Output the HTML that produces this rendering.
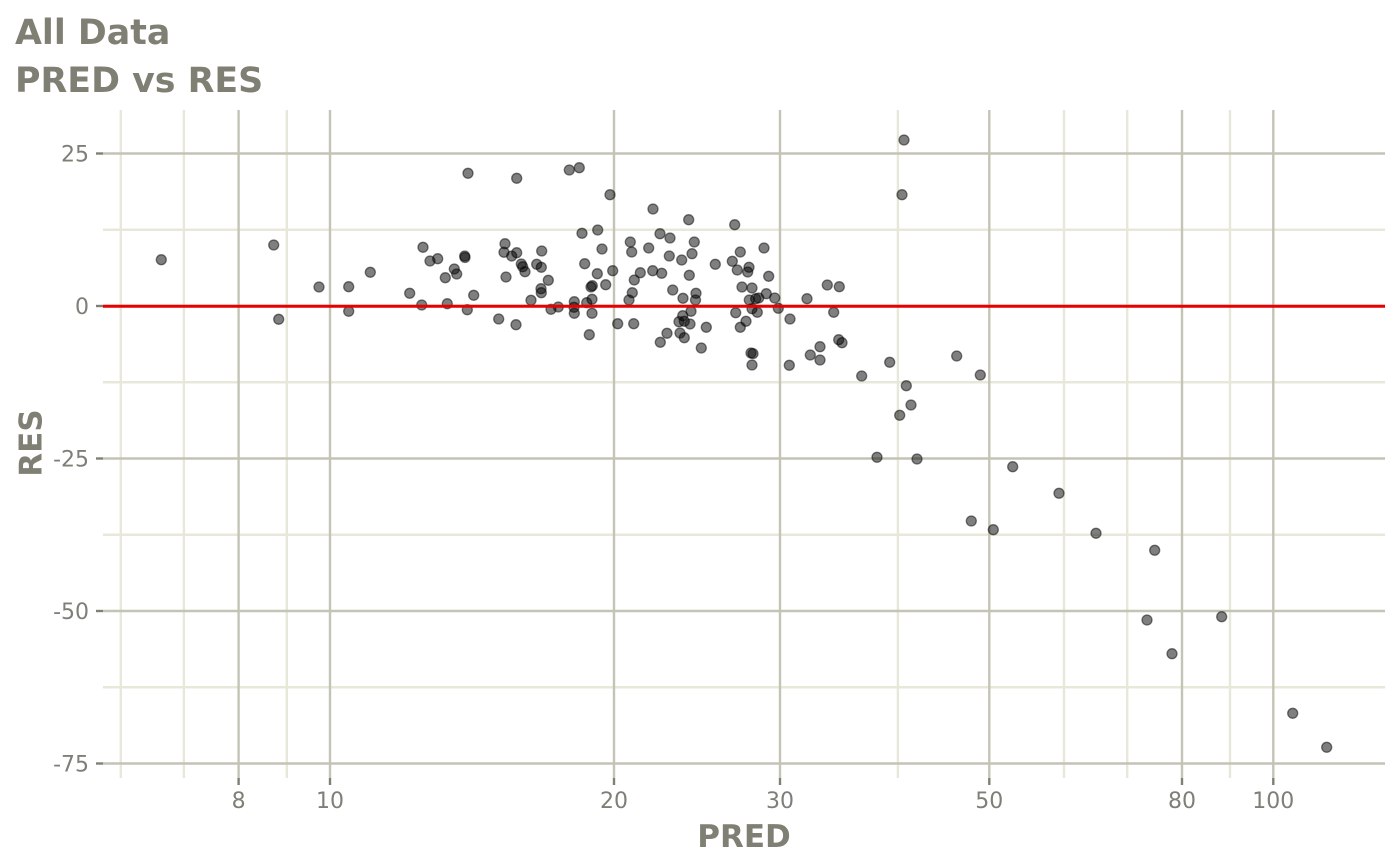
<!DOCTYPE html>
<html><head><meta charset="utf-8"><style>
html,body{margin:0;padding:0;background:#fff;}
svg{display:block;}
text{font-family:"DejaVu Sans","Liberation Sans",sans-serif;}
</style></head><body>
<svg width="1400" height="865" viewBox="0 0 1400 865" xmlns="http://www.w3.org/2000/svg">
<rect width="1400" height="865" fill="#fff"/>
<g stroke="#e8e8da" stroke-width="2.4">
<line x1="103" x2="1385" y1="229.75" y2="229.75"/>
<line x1="103" x2="1385" y1="382.25" y2="382.25"/>
<line x1="103" x2="1385" y1="534.75" y2="534.75"/>
<line x1="103" x2="1385" y1="687.25" y2="687.25"/>
<line x1="120.8" x2="120.8" y1="110" y2="778"/>
<line x1="183.9" x2="183.9" y1="110" y2="778"/>
<line x1="286.8" x2="286.8" y1="110" y2="778"/>
<line x1="897.9" x2="897.9" y1="110" y2="778"/>
<line x1="1064" x2="1064" y1="110" y2="778"/>
<line x1="1127.2" x2="1127.2" y1="110" y2="778"/>
<line x1="1230" x2="1230" y1="110" y2="778"/>
</g>
<g stroke="#c4c4b6" stroke-width="2.4">
<line x1="103" x2="1385" y1="153.5" y2="153.5"/>
<line x1="103" x2="1385" y1="306" y2="306"/>
<line x1="103" x2="1385" y1="458.5" y2="458.5"/>
<line x1="103" x2="1385" y1="611" y2="611"/>
<line x1="103" x2="1385" y1="763.5" y2="763.5"/>
<line x1="238.6" x2="238.6" y1="110" y2="778"/>
<line x1="330" x2="330" y1="110" y2="778"/>
<line x1="614" x2="614" y1="110" y2="778"/>
<line x1="780" x2="780" y1="110" y2="778"/>
<line x1="989.3" x2="989.3" y1="110" y2="778"/>
<line x1="1182" x2="1182" y1="110" y2="778"/>
<line x1="1273.3" x2="1273.3" y1="110" y2="778"/>
</g>
<g stroke="#7f7f78" stroke-width="2.4">
<line x1="96" x2="103" y1="153.5" y2="153.5"/>
<line x1="96" x2="103" y1="306" y2="306"/>
<line x1="96" x2="103" y1="458.5" y2="458.5"/>
<line x1="96" x2="103" y1="611" y2="611"/>
<line x1="96" x2="103" y1="763.5" y2="763.5"/>
<line x1="238.6" x2="238.6" y1="778" y2="785"/>
<line x1="330" x2="330" y1="778" y2="785"/>
<line x1="614" x2="614" y1="778" y2="785"/>
<line x1="780" x2="780" y1="778" y2="785"/>
<line x1="989.3" x2="989.3" y1="778" y2="785"/>
<line x1="1182" x2="1182" y1="778" y2="785"/>
<line x1="1273.3" x2="1273.3" y1="778" y2="785"/>
</g>
<g fill="#000" fill-opacity="0.5" stroke="#000" stroke-opacity="0.5" stroke-width="1.3">
<circle cx="161.3" cy="259.7" r="5"/>
<circle cx="273.7" cy="245" r="5"/>
<circle cx="278.7" cy="319.3" r="5"/>
<circle cx="319" cy="287" r="5"/>
<circle cx="348.7" cy="286.7" r="5"/>
<circle cx="348.7" cy="311.3" r="5"/>
<circle cx="370.3" cy="272.3" r="5"/>
<circle cx="468" cy="173.3" r="5"/>
<circle cx="423" cy="247.3" r="5"/>
<circle cx="430" cy="261" r="5"/>
<circle cx="437.7" cy="258.7" r="5"/>
<circle cx="464.7" cy="256" r="5"/>
<circle cx="465" cy="257.5" r="5"/>
<circle cx="454.3" cy="269" r="5"/>
<circle cx="456.7" cy="274" r="5"/>
<circle cx="445.3" cy="277.7" r="5"/>
<circle cx="409.7" cy="293.3" r="5"/>
<circle cx="421.7" cy="305" r="5"/>
<circle cx="447.3" cy="303.7" r="5"/>
<circle cx="467.3" cy="309.7" r="5"/>
<circle cx="473.7" cy="295.3" r="5"/>
<circle cx="516.7" cy="178.3" r="5"/>
<circle cx="569.3" cy="170" r="5"/>
<circle cx="579.3" cy="167.7" r="5"/>
<circle cx="610" cy="194.7" r="5"/>
<circle cx="653" cy="209" r="5"/>
<circle cx="688.7" cy="219.7" r="5"/>
<circle cx="582" cy="233.3" r="5"/>
<circle cx="597.7" cy="230" r="5"/>
<circle cx="505" cy="243.7" r="5"/>
<circle cx="504" cy="252.3" r="5"/>
<circle cx="511.7" cy="256" r="5"/>
<circle cx="516.7" cy="252.7" r="5"/>
<circle cx="541.7" cy="251" r="5"/>
<circle cx="602" cy="249" r="5"/>
<circle cx="630.3" cy="242" r="5"/>
<circle cx="631.7" cy="252" r="5"/>
<circle cx="648.7" cy="248" r="5"/>
<circle cx="660" cy="233.7" r="5"/>
<circle cx="670" cy="238" r="5"/>
<circle cx="694.3" cy="242" r="5"/>
<circle cx="692" cy="253.7" r="5"/>
<circle cx="669.3" cy="256" r="5"/>
<circle cx="681.7" cy="260" r="5"/>
<circle cx="521.3" cy="264" r="5"/>
<circle cx="522.7" cy="266.7" r="5"/>
<circle cx="525" cy="271.7" r="5"/>
<circle cx="536.7" cy="264.3" r="5"/>
<circle cx="541.3" cy="267.3" r="5"/>
<circle cx="506" cy="277" r="5"/>
<circle cx="584.7" cy="263.7" r="5"/>
<circle cx="612.7" cy="270.7" r="5"/>
<circle cx="597.3" cy="273.7" r="5"/>
<circle cx="640.3" cy="272.7" r="5"/>
<circle cx="652.7" cy="270.7" r="5"/>
<circle cx="661.7" cy="273.3" r="5"/>
<circle cx="689.3" cy="275.3" r="5"/>
<circle cx="634.3" cy="280" r="5"/>
<circle cx="548.3" cy="280.3" r="5"/>
<circle cx="541" cy="288.7" r="5"/>
<circle cx="541.3" cy="292.7" r="5"/>
<circle cx="592.3" cy="285.7" r="5"/>
<circle cx="591" cy="287" r="5"/>
<circle cx="605.7" cy="284.7" r="5"/>
<circle cx="632.3" cy="292.7" r="5"/>
<circle cx="629" cy="300" r="5"/>
<circle cx="531" cy="300.3" r="5"/>
<circle cx="672.7" cy="290" r="5"/>
<circle cx="683" cy="298.3" r="5"/>
<circle cx="696" cy="293.3" r="5"/>
<circle cx="695.5" cy="300" r="5"/>
<circle cx="551" cy="309.3" r="5"/>
<circle cx="558.3" cy="307" r="5"/>
<circle cx="574.3" cy="301.7" r="5"/>
<circle cx="574" cy="307.3" r="5"/>
<circle cx="574.3" cy="313.3" r="5"/>
<circle cx="586.7" cy="302.7" r="5"/>
<circle cx="592" cy="299.3" r="5"/>
<circle cx="592" cy="313.3" r="5"/>
<circle cx="691" cy="311.3" r="5"/>
<circle cx="682.7" cy="315.7" r="5"/>
<circle cx="679" cy="321.7" r="5"/>
<circle cx="684.3" cy="321.3" r="5"/>
<circle cx="690" cy="324" r="5"/>
<circle cx="498.7" cy="319" r="5"/>
<circle cx="516" cy="324.7" r="5"/>
<circle cx="617.7" cy="323.7" r="5"/>
<circle cx="633.7" cy="323.7" r="5"/>
<circle cx="589.3" cy="334.7" r="5"/>
<circle cx="667" cy="333.3" r="5"/>
<circle cx="660.3" cy="342.3" r="5"/>
<circle cx="680" cy="333" r="5"/>
<circle cx="684.3" cy="337.7" r="5"/>
<circle cx="701.3" cy="348" r="5"/>
<circle cx="734.7" cy="224.7" r="5"/>
<circle cx="715.3" cy="264.3" r="5"/>
<circle cx="740.3" cy="252" r="5"/>
<circle cx="764" cy="248" r="5"/>
<circle cx="732.3" cy="261.3" r="5"/>
<circle cx="737.3" cy="270" r="5"/>
<circle cx="749" cy="267.3" r="5"/>
<circle cx="747.7" cy="272" r="5"/>
<circle cx="768.7" cy="276.3" r="5"/>
<circle cx="742" cy="287" r="5"/>
<circle cx="752" cy="288" r="5"/>
<circle cx="766.3" cy="293.7" r="5"/>
<circle cx="774.7" cy="298" r="5"/>
<circle cx="749.3" cy="300" r="5"/>
<circle cx="755.7" cy="298.7" r="5"/>
<circle cx="758.7" cy="298" r="5"/>
<circle cx="735.7" cy="312.7" r="5"/>
<circle cx="752" cy="308.7" r="5"/>
<circle cx="757.3" cy="312.3" r="5"/>
<circle cx="778.3" cy="308.3" r="5"/>
<circle cx="746" cy="321.3" r="5"/>
<circle cx="740.3" cy="327.3" r="5"/>
<circle cx="706.3" cy="327.3" r="5"/>
<circle cx="751" cy="353" r="5"/>
<circle cx="753" cy="353.6" r="5"/>
<circle cx="752" cy="365" r="5"/>
<circle cx="790" cy="319" r="5"/>
<circle cx="807" cy="298.7" r="5"/>
<circle cx="827.3" cy="285" r="5"/>
<circle cx="839.3" cy="286.7" r="5"/>
<circle cx="833.7" cy="312.3" r="5"/>
<circle cx="838.7" cy="339.7" r="5"/>
<circle cx="842" cy="342.7" r="5"/>
<circle cx="820" cy="346.7" r="5"/>
<circle cx="810.3" cy="355" r="5"/>
<circle cx="820" cy="360" r="5"/>
<circle cx="789.3" cy="365.3" r="5"/>
<circle cx="861.7" cy="376" r="5"/>
<circle cx="904" cy="140" r="5"/>
<circle cx="902" cy="194.7" r="5"/>
<circle cx="889.7" cy="362.3" r="5"/>
<circle cx="956.7" cy="356" r="5"/>
<circle cx="980.3" cy="375" r="5"/>
<circle cx="906.3" cy="385.7" r="5"/>
<circle cx="911" cy="405" r="5"/>
<circle cx="899.7" cy="415.3" r="5"/>
<circle cx="877" cy="457.3" r="5"/>
<circle cx="917" cy="459" r="5"/>
<circle cx="1012.7" cy="466.7" r="5"/>
<circle cx="1059" cy="493.3" r="5"/>
<circle cx="971.3" cy="521" r="5"/>
<circle cx="993.3" cy="529.7" r="5"/>
<circle cx="1096" cy="533.3" r="5"/>
<circle cx="1154.7" cy="550.3" r="5"/>
<circle cx="1147" cy="620" r="5"/>
<circle cx="1221.7" cy="616.7" r="5"/>
<circle cx="1172" cy="653.7" r="5"/>
<circle cx="1292.7" cy="713.3" r="5"/>
<circle cx="1326.7" cy="747.3" r="5"/>
</g>
<line x1="103" x2="1385" y1="306.3" y2="306.3" stroke="#e60000" stroke-width="3"/>
<g fill="#7f7f78" font-size="22" text-anchor="end">
<text x="89" y="161.5">25</text>
<text x="89" y="314">0</text>
<text x="89" y="466.5">-25</text>
<text x="89" y="619">-50</text>
<text x="89" y="771.5">-75</text>
</g>
<g fill="#7f7f78" font-size="22" text-anchor="middle">
<text x="238.6" y="808">8</text>
<text x="330" y="808">10</text>
<text x="614" y="808">20</text>
<text x="780" y="808">30</text>
<text x="989.3" y="808">50</text>
<text x="1182" y="808">80</text>
<text x="1273.3" y="808">100</text>
</g>
<g fill="#7f7f74" font-weight="bold">
<text x="744" y="847" font-size="31" text-anchor="middle">PRED</text>
<text transform="translate(41.5,443) rotate(-90)" font-size="31" text-anchor="middle">RES</text>
<text x="15" y="44" font-size="34.8">All Data</text>
<text x="15" y="92" font-size="34.8">PRED vs RES</text>
</g>
</svg>
</body></html>
